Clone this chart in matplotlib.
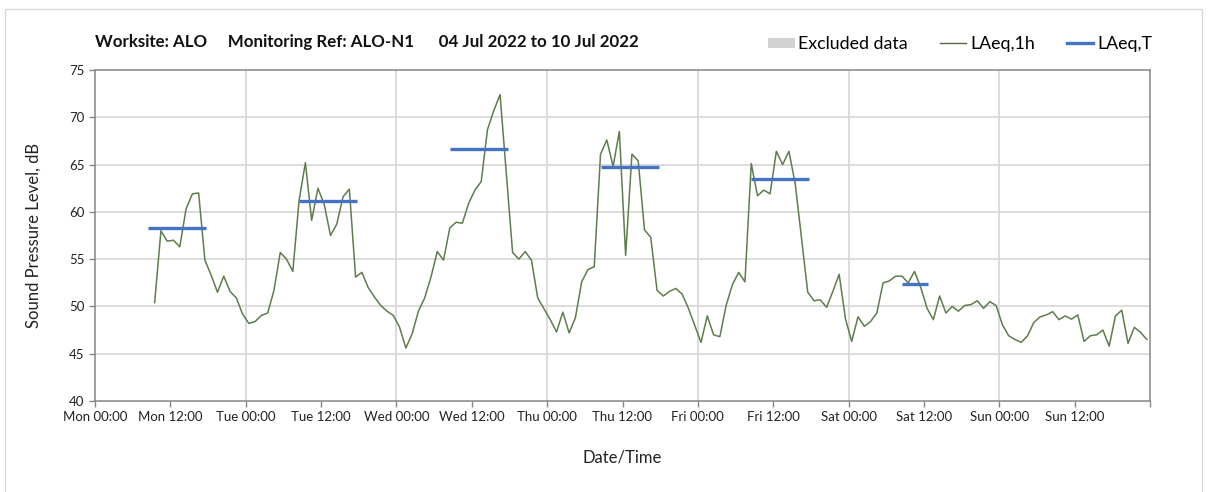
import pandas as pd
import matplotlib
matplotlib.use("Agg")
import matplotlib.pyplot as plt
from matplotlib.lines import Line2D
from matplotlib.patches import Patch, Rectangle

plt.rcParams['font.family'] = ['Lato', 'DejaVu Sans']

# hourly LAeq,1h values (dB), one list per day, stamped at the middle of each hour
mon = [50.4, 58.0, 56.9, 57.0, 56.3, 60.3, 61.9, 62.0, 54.9, 53.3, 51.5, 53.2, 51.6, 50.9, 49.2]
tue = [48.2, 48.4, 49.05, 49.3, 51.7, 55.7, 55.0, 53.7, 61.2, 65.2, 59.1, 62.5,
       60.8, 57.5, 58.7, 61.6, 62.4, 53.1, 53.6, 52.0, 51.0, 50.1, 49.5, 49.05]
wed = [47.8, 45.6, 47.1, 49.5, 50.9, 53.1, 55.8, 54.9, 58.3, 58.9, 58.8, 60.9,
       62.3, 63.2, 68.7, 70.7, 72.4, 64.0, 55.7, 55.0, 55.8, 54.9, 50.9, 49.75]
thu = [48.6, 47.3, 49.4, 47.2, 48.8, 52.6, 53.9, 54.2, 66.1, 67.6, 64.8, 68.5,
       55.4, 66.1, 65.4, 58.1, 57.3, 51.7, 51.1, 51.6, 51.9, 51.3, 49.8, 48.0]
fri = [46.2, 49.0, 47.0, 46.8, 50.1, 52.3, 53.6, 52.6, 65.1, 61.7, 62.3, 61.9,
       66.4, 65.0, 66.4, 63.0, 57.3, 51.5, 50.6, 50.7, 49.9, 51.6, 53.4, 48.7]
sat = [46.3, 48.9, 47.9, 48.4, 49.3, 52.5, 52.7, 53.2, 53.2, 52.5, 53.7, 52.0,
       49.8, 48.6, 51.1, 49.3, 50.0, 49.5, 50.1, 50.2, 50.6, 49.8, 50.5, 50.1]
sun = [48.05, 46.9, 46.5, 46.2, 46.9, 48.3, 48.9, 49.1, 49.45, 48.6, 49.0, 48.65,
       49.1, 46.3, 46.9, 47.0, 47.5, 45.8, 49.0, 49.6, 46.1, 47.8, 47.25, 46.5]
first_reading = '2022-07-04 09:30'

# LAeq,T for each daytime period
laeq_t_start = ['2022-07-04 08:30', '2022-07-05 08:30', '2022-07-06 08:30',
                '2022-07-07 08:30', '2022-07-08 08:30', '2022-07-09 08:30']
laeq_t_end = ['2022-07-04 17:45', '2022-07-05 17:45', '2022-07-06 17:45',
              '2022-07-07 17:45', '2022-07-08 17:45', '2022-07-09 12:35']
laeq_t = [58.3, 61.1, 66.6, 64.7, 63.5, 52.4]

levels = mon + tue + wed + thu + fri + sat + sun
times = pd.date_range(first_reading, periods=len(levels), freq='h')

fig = plt.figure(figsize=(12.08, 4.92), dpi=100)
ax = fig.add_axes([95/1208, 1-401/492, 1055/1208, 331/492])

ax.plot(times, levels, color='#5e7d4c', lw=1.1, zorder=3)
for s, e, v in zip(laeq_t_start, laeq_t_end, laeq_t):
    ax.plot([pd.Timestamp(s), pd.Timestamp(e)], [v, v], color='#4472c4', lw=2.4,
            solid_capstyle='butt', zorder=4)

ax.set_xlim(pd.Timestamp('2022-07-04'), pd.Timestamp('2022-07-11'))
ax.set_ylim(40, 75)
ax.set_yticks(range(40, 80, 5))

ticks = pd.date_range('2022-07-04', '2022-07-11', freq='12h')
ax.set_xticks(ticks)
ax.set_xticklabels([t.strftime('%a %H:%M') for t in ticks[:-1]] + [''])

# light grid: every 5 dB, and at each midnight
ax.grid(False)
for v in range(45, 75, 5):
    ax.axhline(v, color='#d9d9d9', lw=1.3, zorder=1)
for d in pd.date_range('2022-07-05', '2022-07-10', freq='D'):
    ax.axvline(d, color='#d9d9d9', lw=1.3, zorder=1)

for sp in ax.spines.values():
    sp.set_color('#868686')
    sp.set_linewidth(1.1)
ax.tick_params(axis='both', colors='#868686', labelcolor='#222222', labelsize=9.5,
               length=4, width=1)

ax.set_ylabel('Sound Pressure Level, dB', fontsize=12, color='#222222', labelpad=20)
ax.set_xlabel('Date/Time', fontsize=12, color='#222222', labelpad=19)

fig.text(95/1208, 1-42/492,
         'Worksite: ALO     Monitoring Ref: ALO-N1      04 Jul 2022 to 10 Jul 2022',
         fontsize=12.2, fontweight='bold', va='center', ha='left', color='#111111')

handles = [Patch(facecolor='#d3d3d3', edgecolor='none', label='Excluded data'),
           Line2D([], [], color='#4f6b3f', lw=1.0, label='LAeq,1h'),
           Line2D([], [], color='#4472c4', lw=2.4, label='LAeq,T')]
fig.legend(handles=handles, loc='center right', bbox_to_anchor=(1168/1208, 1-44/492),
           ncol=3, frameon=False, fontsize=12.8, handlelength=1.5, handleheight=0.5,
           columnspacing=1.8, handletextpad=0.2)

# outer frame
fig.patches.append(Rectangle((5/1208, -0.05), 1197/1208, 1.05-9/492,
                             transform=fig.transFigure, fill=False,
                             edgecolor='#d9d9d9', lw=1.0))

fig.savefig('out.png', dpi=100, facecolor='white')
